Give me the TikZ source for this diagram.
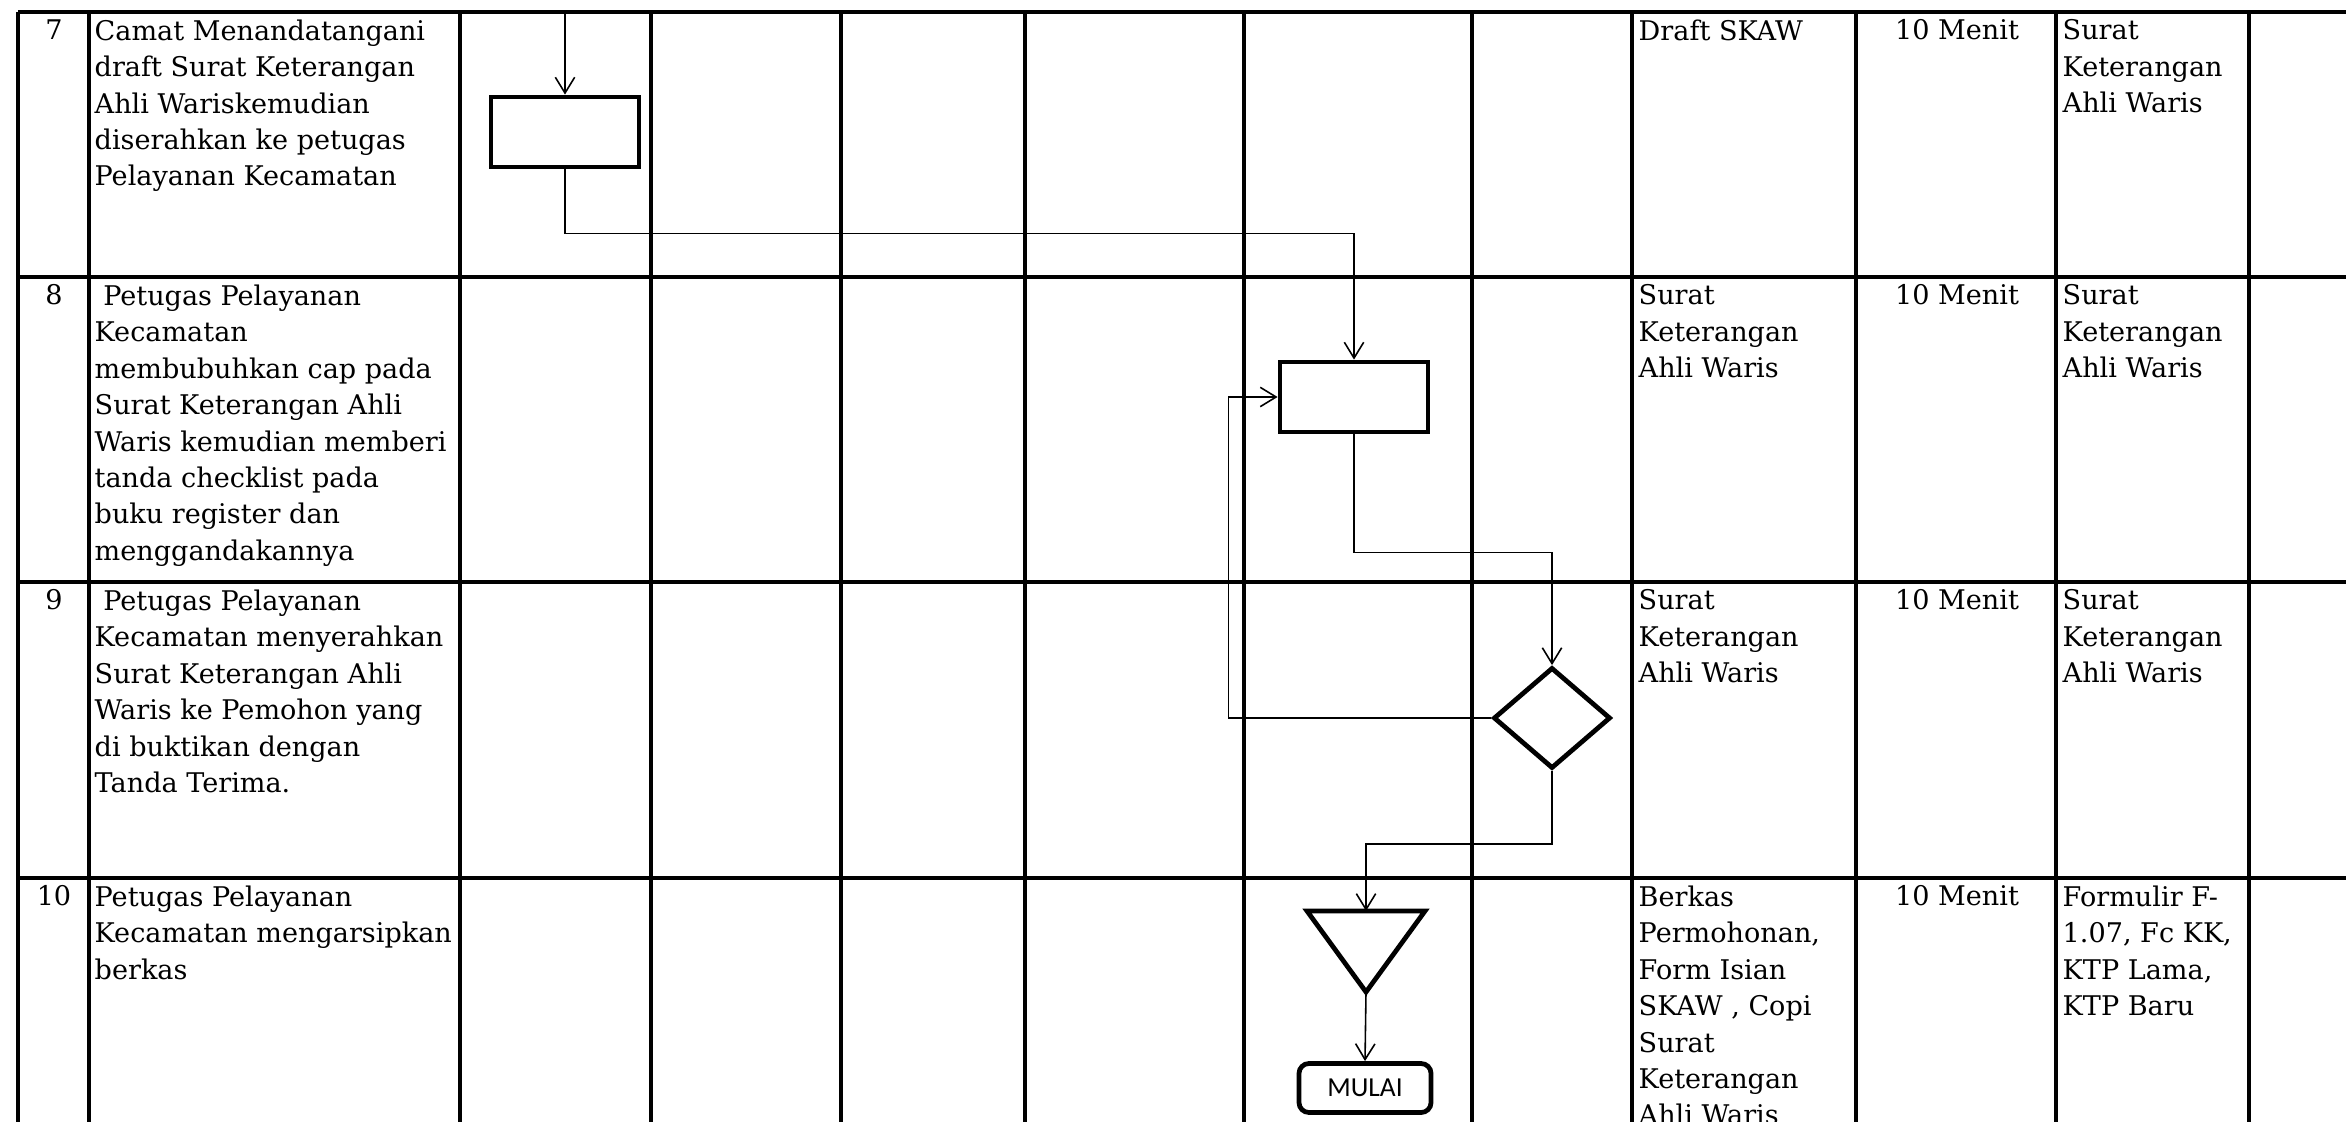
\documentclass[tikz,border=0pt]{standalone}
\usepackage{fontspec}
\setmainfont{DejaVu Serif}
\newfontfamily\mulaifont{Carlito}
\usetikzlibrary{
  arrows.meta,
  calc,
  positioning,
  shapes.geometric
}

\begin{document}
\begin{tikzpicture}[x=0.01cm,y=-0.01cm,>={Straight Barb[length=4.5pt,width=5.5pt]},
  grid/.style={line width=0.9pt},
  flow/.style={line width=0.45pt,->},
  proc/.style={draw,rectangle,line width=1.35pt,minimum width=1.48cm,minimum height=0.70cm,inner sep=0pt},
  decide/.style={draw,diamond,line width=1.35pt,minimum width=1.17cm,minimum height=1.01cm,inner sep=0pt},
  term/.style={draw,rounded corners=0.1cm,line width=1.35pt,minimum width=1.32cm,minimum height=0.49cm,inner sep=0pt,font=\mulaifont\fontsize{7.8pt}{9pt}\selectfont},
  cell/.style={anchor=north west,align=left,inner sep=0pt,font=\fontsize{7.7pt}{10.36pt}\selectfont},
  num/.style={cell,anchor=north,align=center}]
  \useasboundingbox (0,0) rectangle (2346,1122);
  \fill[white] (0,0) rectangle (2346,1122);
  \clip (0,0) rectangle (2346,1122);
  \foreach \y in {12,277,582,878}
    \draw[grid] (18,\y) -- (2346,\y);
  \foreach \x in {18,89,460,651,841,1025,1244,1472,1632,1856,2056,2249}
    \draw[grid] (\x,12) -- (\x,1122);

  \node[num]  (n7) at (54,19)   {7};
  \node[cell] (d7) at (94,19)   {Camat Menandatangani\\draft Surat Keterangan\\Ahli Wariskemudian\\diserahkan ke petugas\\Pelayanan Kecamatan};
  \node[cell] (i7) at (1638,19) {Draft SKAW};
  \node[num]  (t7) at (1957,19) {10 Menit};
  \node[cell] (o7) at (2062,19) {Surat\\Keterangan\\Ahli Waris};

  \node[num]  (n8) at (54,284)   {8};
  \node[cell] (d8) at (94,284)   {\ Petugas Pelayanan\\Kecamatan\\membubuhkan cap pada\\Surat Keterangan Ahli\\Waris kemudian memberi\\tanda checklist pada\\buku register dan\\menggandakannya};
  \node[cell] (i8) at (1638,284) {Surat\\Keterangan\\Ahli Waris};
  \node[num]  (t8) at (1957,284) {10 Menit};
  \node[cell] (o8) at (2062,284) {Surat\\Keterangan\\Ahli Waris};

  \node[num]  (n9) at (54,589)   {9};
  \node[cell] (d9) at (94,589)   {\ Petugas Pelayanan\\Kecamatan menyerahkan\\Surat Keterangan Ahli\\Waris ke Pemohon yang\\di buktikan dengan\\Tanda Terima.};
  \node[cell] (i9) at (1638,589) {Surat\\Keterangan\\Ahli Waris};
  \node[num]  (t9) at (1957,589) {10 Menit};
  \node[cell] (o9) at (2062,589) {Surat\\Keterangan\\Ahli Waris};

  \node[num]  (n10) at (54,885)   {10};
  \node[cell] (d10) at (94,885)   {Petugas Pelayanan\\Kecamatan mengarsipkan\\berkas};
  \node[cell] (i10) at (1638,885) {Berkas\\Permohonan,\\Form Isian\\SKAW , Copi\\Surat\\Keterangan\\Ahli Waris};
  \node[num]  (t10) at (1957,885) {10 Menit};
  \node[cell] (o10) at (2062,885) {Formulir F-\\1.07, Fc KK,\\KTP Lama,\\KTP Baru};

  \coordinate (masuk) at (565,12);
  \node[proc]   (ttd)   at (565,132)  {};
  \node[proc]   (cap)   at (1354,397) {};
  \node[decide] (serah) at (1552,718) {};
  \coordinate (arsipL) at (1307,911);
  \coordinate (arsipR) at (1425,911);
  \coordinate (arsipT) at (1366,911);
  \coordinate (arsipB) at (1366,992);
  \draw[line width=1.35pt] (arsipL) -- (arsipR) -- (arsipB) -- cycle;
  \node[term]   (mulai) at (1365,1088) {MULAI};

  \draw[flow] (masuk) -- (ttd.north);
  \draw[flow] (ttd.south) -- ++(0,64) -| (cap.north);
  \draw[flow] (cap.south) -- ++(0,118) -| (serah.north);
  \draw[flow] (serah.west) -| ([xshift=-0.49cm]cap.west) -- (cap.west);
  \draw[flow] (serah.south) -- ++(0,73) -| (arsipT);
  \draw[flow] (arsipB) -- (mulai.north);
\end{tikzpicture}
\end{document}
